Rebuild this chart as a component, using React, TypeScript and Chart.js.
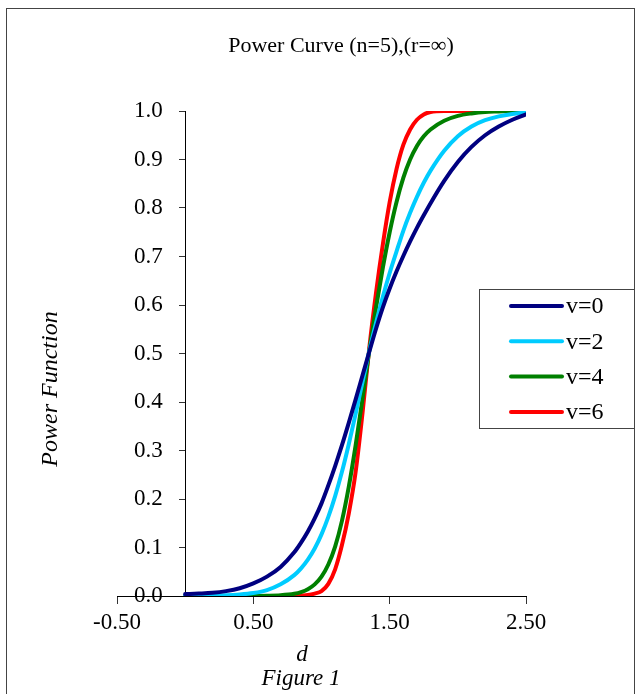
import React, { useEffect, useRef } from "react";
import { Chart, registerables } from "chart.js";

Chart.register(...registerables);

const chartTitle = "Power Curve (n=5),(r=\u221E)";
const xAxisTitle = "d";
const yAxisTitle = "Power Function";
const captionText = "Figure 1";

const seriesLabels = ["v=0", "v=2", "v=4", "v=6"];
const seriesColors = ["#000080", "#00CCFF", "#008000", "#FF0000"];

const dValues = [
  0, 0.1, 0.2, 0.3, 0.4, 0.5, 0.6, 0.7, 0.8, 0.85, 0.9, 0.95, 1.0, 1.05, 1.1, 1.15, 1.2, 1.25,
  1.3, 1.35, 1.4, 1.45, 1.5, 1.55, 1.6, 1.65, 1.7, 1.75, 1.8, 1.9, 2.0, 2.1, 2.2, 2.3, 2.4, 2.5,
];

const powerV0 = [
  0.004, 0.005, 0.0065, 0.01, 0.016, 0.026, 0.04, 0.06, 0.09, 0.11, 0.133, 0.16, 0.191, 0.228,
  0.268, 0.311, 0.357, 0.405, 0.454, 0.503, 0.551, 0.595, 0.634, 0.669, 0.701, 0.731, 0.759,
  0.785, 0.81, 0.856, 0.895, 0.926, 0.95, 0.968, 0.982, 0.993,
];

const powerV2 = [
  0.0005, 0.0005, 0.001, 0.0015, 0.003, 0.006, 0.012, 0.024, 0.043, 0.057, 0.075, 0.098, 0.127,
  0.163, 0.206, 0.256, 0.313, 0.375, 0.44, 0.505, 0.563, 0.617, 0.666, 0.71, 0.753, 0.79, 0.823,
  0.852, 0.877, 0.918, 0.948, 0.968, 0.981, 0.989, 0.994, 0.997,
];

const powerV4 = [
  0, 0, 0, 0, 0, 0.0002, 0.0005, 0.0015, 0.0045, 0.008, 0.014, 0.024, 0.04, 0.065, 0.102, 0.155,
  0.225, 0.31, 0.405, 0.505, 0.595, 0.677, 0.75, 0.812, 0.862, 0.9, 0.928, 0.948, 0.962, 0.98,
  0.99, 0.995, 0.998, 0.999, 1, 1,
];

const powerV6 = [
  0, 0, 0, 0, 0, 0, 0, 0, 0.0005, 0.001, 0.002, 0.005, 0.01, 0.025, 0.055, 0.105, 0.17, 0.255,
  0.375, 0.51, 0.625, 0.725, 0.812, 0.88, 0.93, 0.962, 0.982, 0.993, 0.998, 1, 1, 1, 1, 1, 1, 1,
];

const seriesValues = [powerV0, powerV2, powerV4, powerV6];

const xMin = -0.5;
const xMax = 2.5;
const xStep = 1;
const yMin = 0;
const yMax = 1;
const yStep = 0.1;

const SERIF = "'Liberation Serif', 'Times New Roman', serif";

const decorPlugin = {
  id: "decor",
  afterDraw(chart: any) {
    const ctx = chart.ctx;
    ctx.save();
    // outer frame
    ctx.strokeStyle = "#444";
    ctx.lineWidth = 1;
    ctx.strokeRect(6.5, 8.5, 628, 700);

    ctx.fillStyle = "#000";
    ctx.textAlign = "center";
    ctx.textBaseline = "middle";
    ctx.font = `22px ${SERIF}`;
    ctx.fillText(chartTitle, 341, 46);

    ctx.font = `italic 23px ${SERIF}`;
    ctx.fillText(xAxisTitle, 302, 655);
    ctx.fillText(captionText, 301, 679);

    ctx.save();
    ctx.font = `italic 24px ${SERIF}`;
    ctx.translate(51, 389);
    ctx.rotate(-Math.PI / 2);
    ctx.fillText(yAxisTitle, 0, 0);
    ctx.restore();

    // legend box
    const lx = 479.5, ly = 289.5, lw = 155, lh = 139;
    ctx.strokeStyle = "#444";
    ctx.lineWidth = 1;
    ctx.strokeRect(lx, ly, lw, lh);
    ctx.font = `24px ${SERIF}`;
    ctx.textAlign = "left";
    chart.data.datasets.forEach((ds: any, i: number) => {
      const cy = 306 + i * 35.3;
      ctx.strokeStyle = ds.borderColor;
      ctx.lineWidth = 4;
      ctx.lineCap = "round";
      ctx.beginPath();
      ctx.moveTo(511, cy);
      ctx.lineTo(562, cy);
      ctx.stroke();
      ctx.fillStyle = "#000";
      ctx.fillText(ds.label, 566, cy + 1);
    });
    ctx.restore();
  },
};

export default function App() {
  const canvasRef = useRef<HTMLCanvasElement | null>(null);

  useEffect(() => {
    if (!canvasRef.current) return;
    const chart = new Chart(canvasRef.current, {
      type: "line",
      data: {
        datasets: seriesLabels.map((label, i) => ({
          label,
          data: dValues.map((d, j) => ({ x: d, y: seriesValues[i][j] })),
          borderColor: seriesColors[i],
          backgroundColor: seriesColors[i],
          borderWidth: 4,
          pointRadius: 0,
          borderCapStyle: "round" as const,
          borderJoinStyle: "round" as const,
          cubicInterpolationMode: "monotone" as const,
          fill: false,
        })),
      },
      options: {
        responsive: false,
        animation: false,
        events: [],
        layout: { padding: { left: 117, top: 111, right: 114, bottom: 98 } },
        plugins: {
          legend: { display: false },
          title: { display: false },
          tooltip: { enabled: false },
        },
        scales: {
          x: {
            type: "linear",
            min: xMin,
            max: xMax,
            position: { y: 0 } as any,
            ticks: {
              stepSize: xStep,
              callback: (v: any) => Number(v).toFixed(2),
              font: { family: SERIF, size: 23 },
              color: "#000",
              padding: 6,
              maxRotation: 0,
            },
            grid: {
              display: true,
              drawOnChartArea: false,
              drawTicks: true,
              tickLength: 7,
              color: "#333",
            },
            border: { display: true, color: "#000", width: 1 },
          },
          y: {
            type: "linear",
            min: yMin,
            max: yMax,
            position: { x: 0 } as any,
            ticks: {
              stepSize: yStep,
              display: false,
            },
            grid: {
              display: true,
              drawOnChartArea: false,
              drawTicks: true,
              tickLength: 6,
              color: "#333",
            },
            border: { display: true, color: "#000", width: 1 },
          },
          yLabels: {
            type: "linear",
            axis: "y",
            min: yMin,
            max: yMax,
            position: "left",
            ticks: {
              stepSize: yStep,
              callback: (v: any) => Number(v).toFixed(1),
              font: { family: SERIF, size: 23 },
              color: "#000",
              mirror: true,
              padding: 17,
            },
            grid: { display: false },
            border: { display: false },
            afterFit: (scale: any) => {
              scale.width = 0;
            },
          } as any,
        },
      },
      plugins: [decorPlugin],
    });
    return () => chart.destroy();
  }, []);

  return (
    <div style={{ position: "absolute", left: 0, top: 0, width: 640, height: 694, background: "#fff" }}>
      <canvas ref={canvasRef} width={640} height={694} style={{ display: "block", width: 640, height: 694 }} />
    </div>
  );
}
